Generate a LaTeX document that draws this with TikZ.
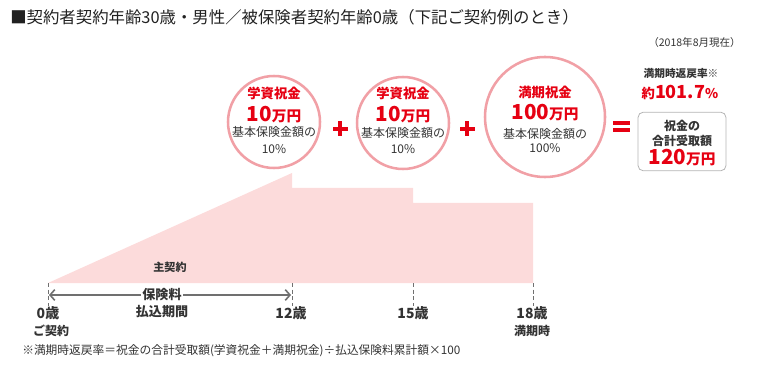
\documentclass[tikz,border=0pt]{standalone}
\usepackage{fontspec}
\setmainfont{Noto Sans CJK JP}
\usetikzlibrary{arrows.meta}
\definecolor{jpred}{RGB}{230,0,18}
\definecolor{pinkfill}{RGB}{252,219,219}
\definecolor{pinkline}{RGB}{241,160,166}
\definecolor{txtgray}{RGB}{51,51,51}
\definecolor{linegray}{RGB}{112,112,112}
\definecolor{boxgray}{RGB}{180,180,180}
\def\fsz#1{\fontsize{#1}{#1}\selectfont}
\def\plussign(#1,#2){\fill[jpred] (#1-7.5,#2-2.2) rectangle (#1+7.5,#2+2.2); \fill[jpred] (#1-2.2,#2-7.5) rectangle (#1+2.2,#2+7.5);}
\def\equalsign(#1,#2){\fill[jpred] (#1-8.5,#2-5.5) rectangle (#1+8.5,#2-1.5); \fill[jpred] (#1-8.5,#2+1.5) rectangle (#1+8.5,#2+5.5);}

\tikzset{
	circ/.style={circle, draw=pinkline, line width=1.9pt, fill=white, inner sep=0pt},
	head/.style={text=jpred, font=\bfseries\fsz{10pt}, inner sep=0pt},
	money/.style={text=jpred, font=\bfseries\fsz{11pt}, inner sep=0pt},
	note/.style={text=txtgray, font=\fsz{9pt}, inner sep=0pt},
	age/.style={text=txtgray, font=\bfseries\fsz{10.5pt}, inner sep=0pt},
	agesub/.style={text=txtgray, font=\bfseries\fsz{9pt}, inner sep=0pt},
	agetick/.style={draw=linegray, line width=0.6pt, dash pattern=on 3pt off 2pt},
	payarrow/.style={draw=linegray, line width=1.2pt, {Straight Barb[length=3.5pt,width=8pt]}-{Straight Barb[length=3.5pt,width=8pt]}}
}

\begin{document}
\begin{tikzpicture}[x=0.75pt, y=-0.75pt]
			%%%%% START %%%%%
			\useasboundingbox (0,0) rectangle (762,366);
			
			\node[anchor=west, inner sep=0pt, text=black!87, font=\fsz{12.3pt}] (title) at (10,17) {■契約者契約年齢30歳・男性／被保険者契約年齢0歳（下記ご契約例のとき）};
			\node[anchor=east, inner sep=0pt, text=txtgray, font=\fsz{7.9pt}] (date) at (741,43) {（2018年8月現在）};
			
			\fill[pinkfill] (48,283) -- (292,173) -- (292,188) -- (413,188) -- (413,203) -- (533,203) -- (533,283) -- cycle;
			\node[inner sep=0pt, text=txtgray, font=\bfseries\fsz{8.3pt}] (main) at (170,267) {主契約};
			
			\node[circ, minimum size=69pt] (c1) at (274,122) {};
			\node[head] (c1a) at (274,93) {学資祝金};
			\node[money] (c1b) at (274,115) {{\fsz{15.5pt}10}万円};
			\node[note] (c1c) at (274,132) {基本保険金額の};
			\node[note] (c1d) at (274,149) {10\%};
			
			\plussign(340,129)
			
			\node[circ, minimum size=69pt] (c2) at (403,123) {};
			\node[head] (c2a) at (403,93) {学資祝金};
			\node[money] (c2b) at (403,115) {{\fsz{15.5pt}10}万円};
			\node[note] (c2c) at (403,133) {基本保険金額の};
			\node[note] (c2d) at (403,149) {10\%};
			
			\plussign(467,129)
			
			\node[circ, minimum size=90pt] (c3) at (545,117) {};
			\node[head] (c3a) at (545,92) {満期祝金};
			\node[money] (c3b) at (545,113) {{\fsz{15.5pt}100}万円};
			\node[note] (c3c) at (545,134) {基本保険金額の};
			\node[note] (c3d) at (545,148) {100\%};
			
			\equalsign(621,126.5)
			
			\node[inner sep=0pt, text=txtgray, font=\bfseries\fsz{8pt}] (rate) at (681,73) {満期時返戻率※};
			\node[money] (ratev) at (680,92) {{\fsz{10pt}約}{\fsz{13.5pt}101.7}{\fsz{10pt}\%}};
			\node[draw=boxgray, line width=0.6pt, rounded corners=4pt, minimum width=66pt, minimum height=44pt] (total) at (682,141.5) {};
			\node[agesub] (ta) at (682,126) {祝金の};
			\node[agesub] (tb) at (682,141) {合計受取額};
			\node[money] (tc) at (682,158) {{\fsz{15.5pt}120}万円};
			
			\coordinate (t0) at (48,283);
			\coordinate (t12) at (292,283);
			\coordinate (t15) at (413,283);
			\coordinate (t18) at (533,283);
			\draw[agetick] (t0) -- ++(0,23);
			\draw[agetick] (t12) -- ++(0,23);
			\draw[agetick] (t15) -- ++(0,23);
			\draw[agetick] (t18) -- ++(0,23);
			
			\coordinate (a0) at (49,295);
			\coordinate (a12) at (291,295);
			\draw[payarrow] (a0) -- (a12);
			\node[fill=white, inner sep=1pt, text=txtgray, font=\bfseries\fsz{9.8pt}] (pay) at (162,295) {保険料};
			\node[inner sep=0pt, text=txtgray, font=\bfseries\fsz{9.8pt}] (payb) at (162,312) {払込期間};
			
			\node[age] (y0) at (48,313) {0歳};
			\node[agesub] (y0b) at (51,331) {ご契約};
			\node[age] (y12) at (291,313) {12歳};
			\node[age] (y15) at (413,313) {15歳};
			\node[age] (y18) at (532,313) {18歳};
			\node[agesub] (y18b) at (532,331) {満期時};
			
			\node[anchor=west, inner sep=0pt, text=txtgray, font=\fsz{8.8pt}] (foot) at (22,351) {※満期時返戻率＝祝金の合計受取額(学資祝金＋満期祝金)÷払込保険料累計額×100};
			
			%%%%% END %%%%%
		\end{tikzpicture}
\end{document}
